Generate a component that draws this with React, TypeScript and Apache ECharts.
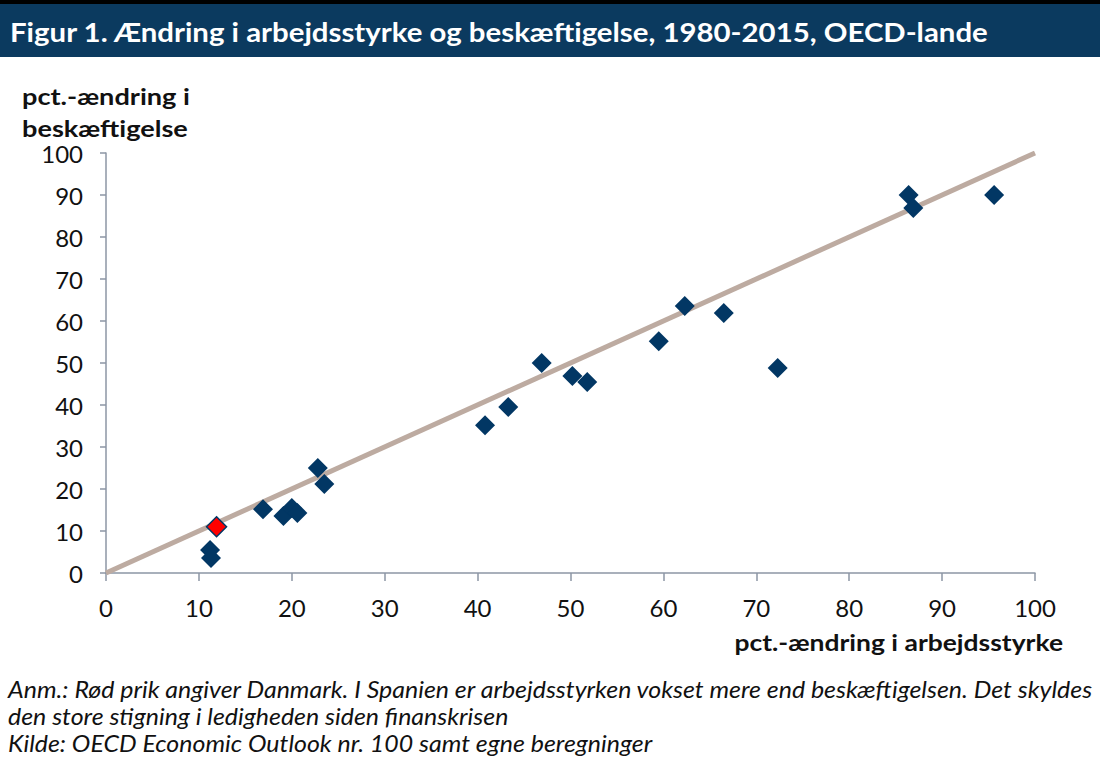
import React, { useEffect, useRef } from "react";
import * as echarts from "echarts";

const TITLE = "Figur 1. Ændring i arbejdsstyrke og beskæftigelse, 1980-2015, OECD-lande";
const Y_NAME_LINES = ["pct.-ændring i", "beskæftigelse"];
const X_NAME = "pct.-ændring i arbejdsstyrke";
const NOTE_LINES = [
  "Anm.: Rød prik angiver Danmark. I Spanien er arbejdsstyrken vokset mere end beskæftigelsen. Det skyldes",
  "den store stigning i ledigheden siden finanskrisen",
  "Kilde: OECD Economic Outlook nr. 100 samt egne beregninger",
];

// pct.-ændring i arbejdsstyrke (x), pct.-ændring i beskæftigelse (y)
const laborForce = [11.2, 11.3, 16.9, 19.1, 20.0, 20.6, 22.8, 23.5, 40.8, 43.3, 46.9, 50.2, 51.8, 59.5, 62.3, 66.5, 72.3, 86.4, 86.9, 95.6];
const employment = [5.5, 3.6, 15.2, 13.6, 15.5, 14.3, 25.0, 21.2, 35.2, 39.5, 50.0, 46.9, 45.5, 55.2, 63.6, 61.9, 48.8, 90.0, 86.9, 90.0];
const denmark = [11.9, 11.0];
const trendLine = [[0, 0], [100, 100]];

const xTicks = [0, 10, 20, 30, 40, 50, 60, 70, 80, 90, 100];
const yTicks = [0, 10, 20, 30, 40, 50, 60, 70, 80, 90, 100];

export default function App() {
  const ref = useRef<HTMLDivElement>(null);
  useEffect(() => {
    if (!ref.current) return;
    const chart = echarts.init(ref.current, null, { renderer: "svg" });
    const font = "Lato, 'Open Sans', sans-serif";
    const axisColor = "#8c96a5";
    const navy = "#023764";
    const points = laborForce.map((x, i) => [x, employment[i]]);
    chart.setOption({
      animation: false,
      backgroundColor: "#ffffff",
      textStyle: { fontFamily: font },
      grid: { left: 106, right: 65, top: 153, bottom: 188 },
      xAxis: {
        type: "value",
        min: xTicks[0],
        max: xTicks[xTicks.length - 1],
        interval: 10,
        axisLine: { show: true, lineStyle: { color: axisColor, width: 1.5 } },
        axisTick: { show: true, length: 8, lineStyle: { color: axisColor, width: 1.5 } },
        splitLine: { show: false },
        axisLabel: { fontSize: 24, color: "#111", margin: 22, fontFamily: font },
      },
      yAxis: {
        type: "value",
        min: yTicks[0],
        max: yTicks[yTicks.length - 1],
        interval: 10,
        axisLine: { show: true, lineStyle: { color: axisColor, width: 1.5 } },
        axisTick: { show: true, length: 6, lineStyle: { color: axisColor, width: 1.5 } },
        splitLine: { show: false },
        axisLabel: { fontSize: 24, color: "#111", margin: 23, fontFamily: font },
      },
      series: [
        {
          type: "line",
          data: trendLine,
          symbol: "none",
          lineStyle: { color: "#bdaba1", width: 5 },
          z: 1,
          silent: true,
        },
        {
          type: "scatter",
          data: points,
          symbol: "diamond",
          symbolSize: 20,
          itemStyle: { color: navy, opacity: 1 },
          z: 3,
        },
        {
          type: "scatter",
          data: [denmark],
          symbol: "diamond",
          symbolSize: 20,
          itemStyle: { color: "#ff0000", borderColor: navy, borderWidth: 1.5, opacity: 1 },
          z: 4,
        },
      ],
      graphic: [
        { type: "rect", x: 0, y: 0, shape: { width: 1100, height: 4 }, style: { fill: "#000000" } },
        { type: "rect", x: 0, y: 4, shape: { width: 1100, height: 53 }, style: { fill: "#0b3a5f" } },
        {
          type: "text",
          x: 10,
          y: 32,
          scaleX: 1.13,
          style: { text: TITLE, fill: "#ffffff", font: `bold 26px ${font}`, align: "left", verticalAlign: "middle" },
        },
        {
          type: "text",
          x: 22,
          y: 80,
          scaleX: 1.18,
          style: {
            text: Y_NAME_LINES.join("\n"),
            fill: "#111",
            font: `bold 23px ${font}`,
            lineHeight: 32,
            align: "left",
            verticalAlign: "top",
          },
        },
        {
          type: "text",
          x: 1063,
          y: 642,
          scaleX: 1.15,
          style: { text: X_NAME, fill: "#111", font: `bold 23px ${font}`, align: "right", verticalAlign: "middle" },
        },
        {
          type: "text",
          x: 8,
          y: 675,
          scaleX: 1.084,
          style: {
            text: NOTE_LINES.join("\n"),
            fill: "#111",
            font: `italic 23px ${font}`,
            lineHeight: 27,
            align: "left",
            verticalAlign: "top",
          },
        },
      ],
    });
    return () => chart.dispose();
  }, []);
  return (
    <div
      ref={ref}
      style={{ position: "fixed", left: 0, top: 0, width: 1100, height: 761, background: "#fff" }}
    />
  );
}
